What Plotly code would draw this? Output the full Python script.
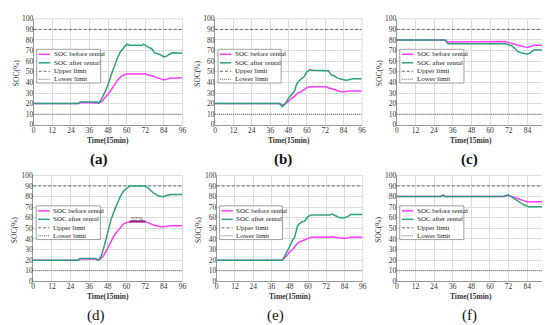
import plotly.graph_objects as go

# ---------------- data ----------------
x_ticks = [0, 12, 24, 36, 48, 60, 72, 84, 96]
y_ticks = [0, 10, 20, 30, 40, 50, 60, 70, 80, 90, 100]
upper_limit = 90
lower_limit = 10
series_names = ["SOC before rental", "SOC after rental", "Upper limit", "Lower limit"]
panel_labels = ["(a)", "(b)", "(c)", "(d)", "(e)", "(f)"]

a_t_before = [0, 29, 30, 41, 42, 44, 46, 48, 50, 52, 54, 56, 58, 60, 70, 72, 74, 76, 78, 80, 82, 84, 86, 88, 96]
a_before = [20, 20, 21, 21, 20.5, 22, 25, 29, 33, 38, 42, 45, 47, 48, 48, 48, 47, 46.5, 45.5, 44, 43, 42.5, 43, 44, 44.5]
a_t_after = [0, 29, 30, 41, 42, 44, 46, 48, 50, 52, 54, 56, 58, 60, 62, 70, 71, 72, 74, 76, 78, 80, 82, 84, 86, 88, 90, 96]
a_after = [20, 20, 21.5, 21.5, 20.5, 25, 31, 38, 47, 56, 63, 69, 73, 76, 75, 75, 76, 75, 73, 72, 68, 67, 66, 64, 65, 67, 68, 67.5]

b_t_before = [0, 42, 44, 46, 48, 50, 52, 54, 56, 58, 60, 62, 72, 74, 76, 78, 80, 82, 84, 86, 88, 96]
b_before = [20, 20, 18.5, 20, 22, 25, 27, 30, 31, 33, 35, 36, 36, 35, 34, 33, 32, 31.5, 31, 31.5, 32, 32]
b_t_after = [0, 42, 44, 46, 48, 50, 52, 53, 54, 56, 57, 58, 60, 62, 64, 74, 76, 78, 80, 82, 84, 86, 88, 90, 96]
b_after = [20, 20, 17, 20, 25, 29, 32, 37, 40, 43, 44, 45, 50, 52, 51.5, 51, 47, 46, 44, 43, 42.5, 42, 43, 43.5, 43.5]

c_t_before = [0, 31, 33, 68, 70, 72, 74, 76, 78, 80, 82, 84, 86, 88, 96]
c_before = [80, 80, 78, 78, 78.5, 77.5, 77, 76, 75, 74, 73.5, 73, 74, 75, 75]
c_t_after = [0, 31, 33, 68, 70, 72, 74, 76, 78, 80, 82, 84, 86, 88, 96]
c_after = [80, 80, 76.5, 76.5, 76.5, 75.5, 74.5, 72, 69, 68, 67, 66.5, 68, 70.5, 70.5]

d_t_before = [0, 29, 30, 40, 42, 44, 46, 48, 50, 52, 54, 56, 58, 60, 62, 64, 72, 74, 76, 78, 80, 82, 84, 86, 88, 96]
d_before = [20, 20, 21, 21, 20, 22, 26, 32, 38, 43, 47, 51, 54, 55.5, 56, 56.5, 56.5, 55, 54, 53, 52, 51.5, 51.5, 52, 52.5, 52.5]
d_t_after = [0, 29, 30, 40, 42, 44, 46, 48, 50, 52, 54, 56, 58, 60, 62, 72, 74, 76, 78, 80, 82, 84, 86, 88, 96]
d_after = [20, 20, 21.5, 21.5, 20, 25, 35, 47, 58, 66, 74, 80, 85, 88, 90, 90, 88, 85, 83, 81, 80, 80, 81, 82, 82]
d_peak_t = [62, 72]
d_peak_level = 56.5
d_peak_value = 57

e_t_before = [0, 43, 44, 46, 48, 50, 52, 54, 56, 58, 60, 62, 74, 76, 78, 80, 82, 84, 86, 88, 96]
e_before = [20, 20, 21.5, 24, 28, 30, 34, 37, 38, 39, 40, 41.5, 41.5, 42, 41.5, 41, 40.5, 40.5, 41, 41.5, 41.5]
e_t_after = [0, 43, 44, 46, 48, 50, 51, 52, 53, 54, 56, 58, 60, 62, 74, 76, 78, 80, 82, 84, 86, 88, 96]
e_after = [20, 20, 22, 27, 33, 39, 41, 46, 52, 54, 56, 57, 61, 62.5, 62.5, 63.5, 62, 60.5, 60, 60, 61, 63, 63]

f_t_before = [0, 28, 30, 31, 69, 70, 72, 74, 76, 78, 80, 82, 84, 96]
f_before = [80, 80, 81, 80, 80, 80.5, 81, 80, 79, 78, 77, 76, 75, 75]
f_t_after = [0, 28, 30, 31, 69, 70, 72, 74, 76, 78, 80, 82, 84, 85, 96]
f_after = [80, 80, 81.5, 80, 80, 81, 81.5, 79.5, 78, 76, 74, 72, 71, 70.5, 70.5]

panels = [
    (a_t_before, a_before, a_t_after, a_after),
    (b_t_before, b_before, b_t_after, b_after),
    (c_t_before, c_before, c_t_after, c_after),
    (d_t_before, d_before, d_t_after, d_after),
    (e_t_before, e_before, e_t_after, e_after),
    (f_t_before, f_before, f_t_after, f_after),
]

# ---------------- style ----------------
FONT = "Liberation Serif"
C_BEFORE = "#ff3dff"
C_AFTER = "#2fa07c"
C_LIMIT = "#666666"
GRID = "#dcdcdc"

x_domains = [[0.0436, 0.317], [0.377, 0.647], [0.711, 0.9855],
             [0.0427, 0.317], [0.380, 0.6485], [0.711, 0.985]]
y_domains = [[0.643, 0.9785]] * 3 + [[0.1477, 0.483]] * 3
label_pos = [(0.44, -0.33), (0.46, -0.33), (0.49, -0.33),
             (0.42, -0.32), (0.40, -0.32), (0.49, -0.32)]
label_bold = [True, True, True, False, False, False]

fig = go.Figure()
annotations = []
shapes = []

for i, (tb, vb, ta, va) in enumerate(panels):
    k = i + 1
    xa = "x" if k == 1 else f"x{k}"
    ya = "y" if k == 1 else f"y{k}"
    # limits
    fig.add_trace(go.Scatter(x=[x_ticks[0], x_ticks[-1]], y=[upper_limit, upper_limit], mode="lines",
                             line=dict(color=C_LIMIT, width=1, dash="3px,2px"), xaxis=xa, yaxis=ya,
                             showlegend=False, hoverinfo="skip"))
    fig.add_trace(go.Scatter(x=[x_ticks[0], x_ticks[-1]], y=[lower_limit, lower_limit], mode="lines",
                             line=dict(color=C_LIMIT, width=1, dash="1px,1px"), xaxis=xa, yaxis=ya,
                             showlegend=False, hoverinfo="skip"))
    fig.add_trace(go.Scatter(x=tb, y=vb, mode="lines", name=series_names[0],
                             line=dict(color=C_BEFORE, width=1.5), xaxis=xa, yaxis=ya, showlegend=False))
    fig.add_trace(go.Scatter(x=ta, y=va, mode="lines", name=series_names[1],
                             line=dict(color=C_AFTER, width=1.5), xaxis=xa, yaxis=ya, showlegend=False))
    if k == 4:
        fig.add_trace(go.Scatter(x=d_peak_t, y=[d_peak_level, d_peak_level], mode="lines",
                                 line=dict(color="#8a1a8a", width=2), xaxis=xa, yaxis=ya,
                                 showlegend=False, hoverinfo="skip"))
        annotations.append(dict(x=sum(d_peak_t) / 2, y=d_peak_value + 2, xref=xa, yref=ya,
                                text=f"{d_peak_value}%", showarrow=False,
                                font=dict(family=FONT, size=6.5, color="#444")))

    axis_common = dict(showgrid=True, gridcolor=GRID, gridwidth=1, zeroline=False,
                       showline=True, linecolor="#9a9a9a", linewidth=1, mirror=False,
                       ticks="", ticklabelstandoff=-2,
                       tickfont=dict(family=FONT, size=7.5, color="#333"))
    fig.update_layout({
        f"xaxis{'' if k == 1 else k}": dict(domain=x_domains[i], anchor=ya, range=[0, 96],
                                            tickvals=x_ticks, ticktext=[str(t) for t in x_ticks],
                                            **axis_common),
        f"yaxis{'' if k == 1 else k}": dict(domain=y_domains[i], anchor=xa, range=[0, 100],
                                            tickvals=y_ticks, ticktext=[str(t) for t in y_ticks],
                                            **axis_common),
    })
    dx = f"{xa} domain"
    dy = f"{ya} domain"
    # frame top/right
    shapes.append(dict(type="line", xref=dx, yref=dy, x0=0, x1=1, y0=1, y1=1, line=dict(color=GRID, width=1)))
    shapes.append(dict(type="line", xref=dx, yref=dy, x0=1, x1=1, y0=0, y1=1, line=dict(color=GRID, width=1)))
    # axis titles
    annotations.append(dict(x=0.5, y=-0.145, xref=dx, yref=dy, text="<b>Time(15min)</b>", showarrow=False,
                            font=dict(family=FONT, size=7.5, color="#333"), yanchor="middle"))
    annotations.append(dict(x=-0.12, y=0.486, xref=dx, yref=dy, text="SOC(%)", showarrow=False, textangle=-90,
                            font=dict(family=FONT, size=7.5, color="#333"), xanchor="center", yanchor="middle"))
    # panel label
    lx, ly = label_pos[i]
    lt = f"<b>{panel_labels[i]}</b>" if label_bold[i] else panel_labels[i]
    annotations.append(dict(x=lx, y=ly, xref=dx, yref=dy, text=lt, showarrow=False,
                            font=dict(family=FONT, size=15, color="#111"), yanchor="middle"))
    # legend box
    shapes.append(dict(type="rect", xref=dx, yref=dy, x0=0.02, x1=0.45, y0=0.394, y1=0.712,
                       line=dict(color="#888", width=0.8), fillcolor="white", layer="above"))
    ys = [0.665, 0.585, 0.505, 0.43]
    styles = [dict(color=C_BEFORE, width=1.5), dict(color=C_AFTER, width=1.5),
              dict(color=C_LIMIT, width=1, dash="3px,2px"), dict(color=C_LIMIT, width=1, dash="1px,1px")]
    for yy, st, nm in zip(ys, styles, series_names):
        shapes.append(dict(type="line", xref=dx, yref=dy, x0=0.033, x1=0.11, y0=yy, y1=yy, line=st, layer="above"))
        annotations.append(dict(x=0.12, y=yy, xref=dx, yref=dy, text=nm, showarrow=False, xanchor="left",
                                yanchor="middle", font=dict(family=FONT, size=7, color="#222")))

fig.update_layout(width=550, height=325, margin=dict(l=0, r=0, t=0, b=0),
                  paper_bgcolor="white", plot_bgcolor="white", showlegend=False,
                  annotations=annotations, shapes=shapes)
fig.write_html("out.html")
